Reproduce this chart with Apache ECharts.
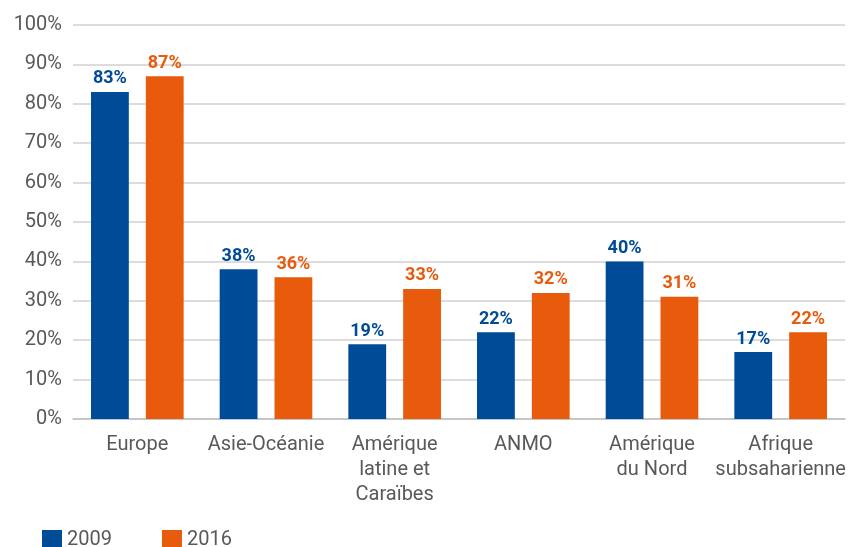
<!DOCTYPE html>
<html lang="fr">
<head>
    <meta charset="UTF-8">
    <title>Régions</title>
    <script src="https://cdn.jsdelivr.net/npm/echarts@6/dist/echarts.min.js"></script>
    <style>body{margin:0;background:#fff}</style>
</head>
<body>
    <div id="main" style="width: 852px;height: 547px"></div>
    <script type="text/javascript">
        var categories = ['Europe', 'Asie-Océanie', 'Amérique\nlatine et\nCaraïbes', 'ANMO', 'Amérique\ndu Nord', 'Afrique\nsubsaharienne'];
        var values2009 = [83, 38, 19, 22, 40, 17];
        var values2016 = [87, 36, 33, 32, 31, 22];
        var blue = '#004B98';
        var orange = '#E95B0C';

        function labelOf(color) {
            return {
                show: true,
                position: 'top',
                distance: 4,
                formatter: '{c}%',
                color: color,
                fontFamily: 'Roboto',
                fontWeight: 'bold',
                fontSize: 18
            };
        }

        var option = {
            animation: false,
            textStyle: { fontFamily: 'Roboto' },
            grid: { left: 73, right: 7, top: 25, bottom: 128 },
            legend: {
                left: 37,
                bottom: -8,
                itemWidth: 20,
                itemHeight: 20,
                itemGap: 50,
                icon: 'rect',
                textStyle: { fontSize: 20, color: '#595959', fontFamily: 'Roboto' },
                data: ['2009', '2016']
            },
            xAxis: {
                type: 'category',
                data: categories,
                axisLine: { lineStyle: { color: '#bfbfbf', width: 1.5 } },
                axisTick: { length: 9, lineStyle: { color: '#bfbfbf', width: 1.5 } },
                axisLabel: {
                    color: '#595959',
                    fontSize: 20,
                    lineHeight: 25,
                    margin: 13,
                    interval: 0
                }
            },
            yAxis: {
                type: 'value',
                min: 0,
                max: 100,
                interval: 10,
                axisLabel: {
                    formatter: '{value}%',
                    color: '#595959',
                    fontSize: 20,
                    margin: 11
                },
                splitLine: { lineStyle: { color: '#d0d0d0', width: 1.5 } }
            },
            series: [
                {
                    name: '2009',
                    type: 'bar',
                    data: values2009,
                    itemStyle: { color: blue },
                    barCategoryGap: '28%',
                    barGap: '45%',
                    label: labelOf(blue)
                },
                {
                    name: '2016',
                    type: 'bar',
                    data: values2016,
                    itemStyle: { color: orange },
                    barCategoryGap: '28%',
                    barGap: '45%',
                    label: labelOf(orange)
                }
            ]
        };

        var myChart = echarts.init(document.getElementById('main'));
        myChart.setOption(option);
    </script>
</body>
</html>
